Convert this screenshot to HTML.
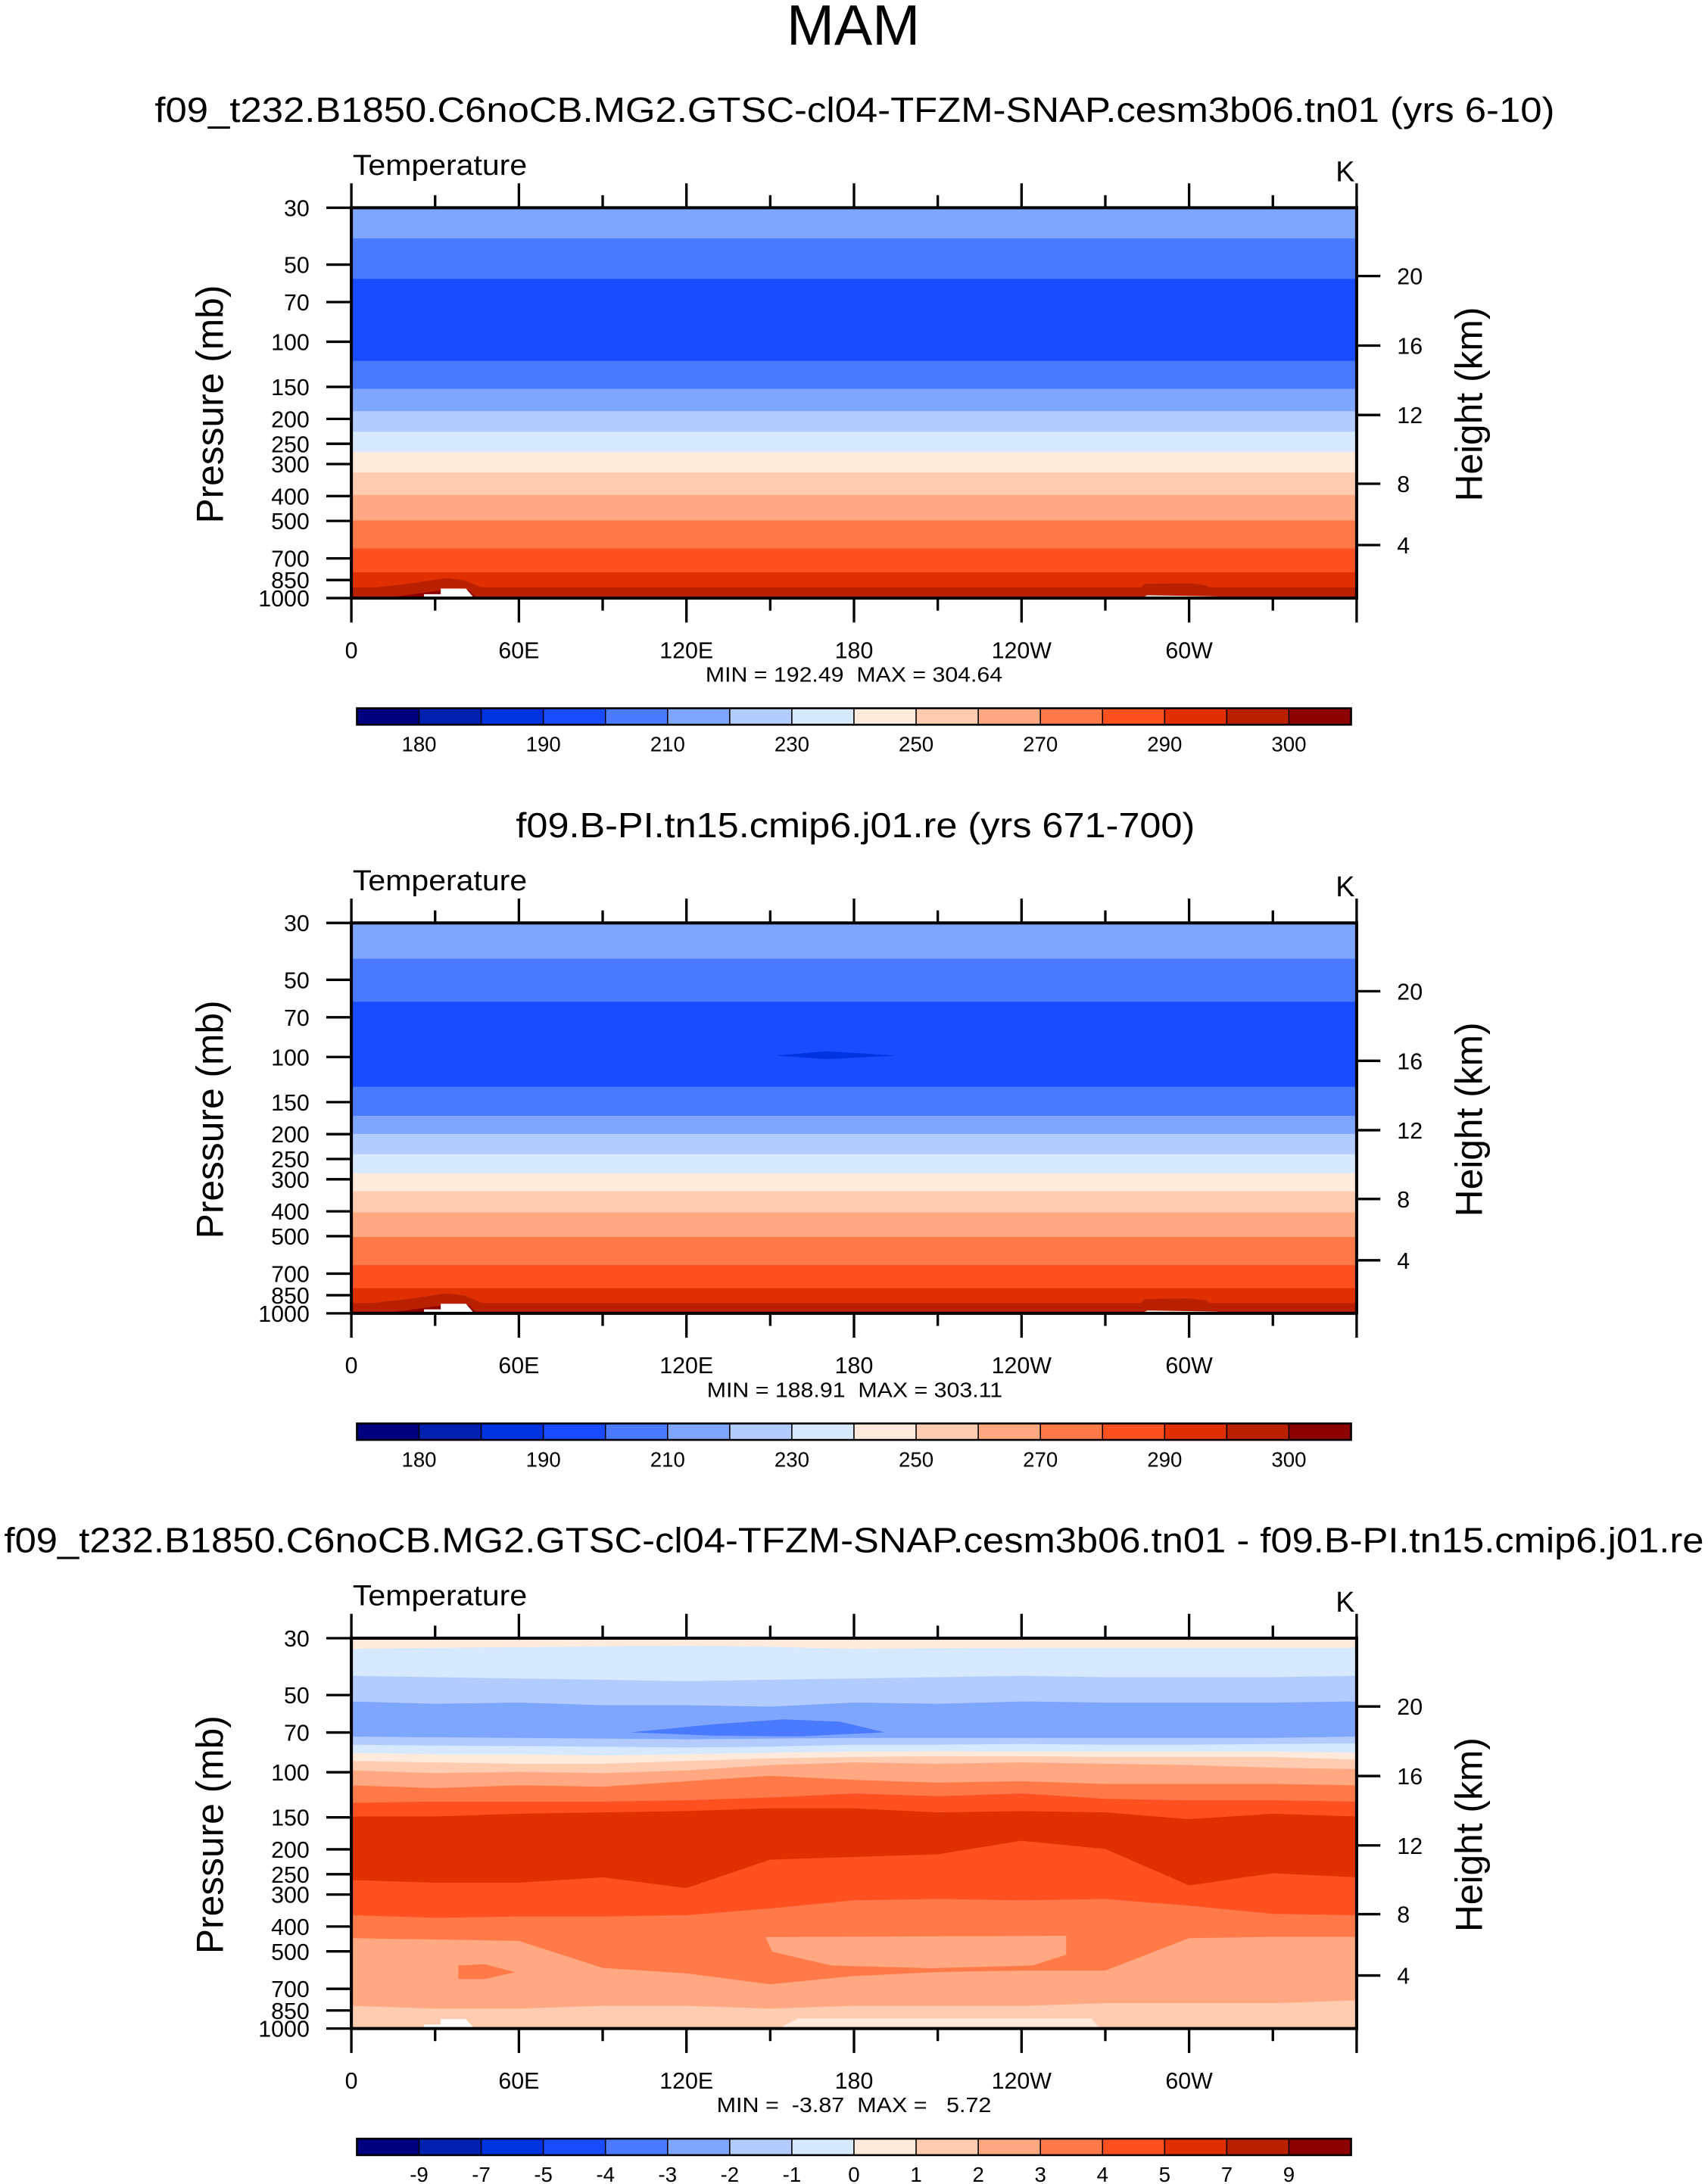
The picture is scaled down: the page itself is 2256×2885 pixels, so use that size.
<!DOCTYPE html>
<html><head><meta charset="utf-8"><style>
html,body{margin:0;padding:0;background:#fff;}
svg{display:block;font-family:"Liberation Sans",Arial,sans-serif;}
text{white-space:pre;}
</style></head><body>
<svg id="fig" width="2256" height="2885" viewBox="0 0 1225 1566.5" preserveAspectRatio="none" xmlns="http://www.w3.org/2000/svg">
<rect x="0" y="0" width="1225" height="1566.5" fill="#fff"/>
<text x="612" y="32" font-size="41" text-anchor="middle">MAM</text>
<text x="111" y="87.5" font-size="25" textLength="1004" lengthAdjust="spacingAndGlyphs">f09_t232.B1850.C6noCB.MG2.GTSC-cl04-TFZM-SNAP.cesm3b06.tn01 (yrs 6-10)</text>
<text x="370" y="600.5" font-size="25" textLength="487" lengthAdjust="spacingAndGlyphs">f09.B-PI.tn15.cmip6.j01.re (yrs 671-700)</text>
<text x="3" y="1113.5" font-size="25" textLength="1219" lengthAdjust="spacingAndGlyphs">f09_t232.B1850.C6noCB.MG2.GTSC-cl04-TFZM-SNAP.cesm3b06.tn01 - f09.B-PI.tn15.cmip6.j01.re</text>
<g id="panels"></g>
</svg>
<script>
// ---- data ----
const lonSamples = [0,30,60,90,120,150,180,210,240,270,300,330,360];
const colors = ["#00007f","#0020b0","#0033e0","#1a4cff","#4a7aff","#7fa6ff","#b3ccff","#d6e9ff","#ffeadb","#ffcbb1","#ffa882","#ff7a48","#ff5020","#e03000","#b82000","#8b0000"];
const tempLevels = [180,185,190,200,210,220,230,240,250,260,270,280,290,295,300];
const tempLabels = ["180","","190","","210","","230","","250","","270","","290","","300"];
const diffLevels = [-9,-7,-5,-4,-3,-2,-1,0,1,2,3,4,5,7,9];
const diffLabels = ["-9","-7","-5","-4","-3","-2","-1","0","1","2","3","4","5","7","9"];
const pressureTicks = [30,50,70,100,150,200,250,300,400,500,700,850,1000];
const heightTicks = ["20","16","12","8","4"];
const heightTickP = [55.4,103.5,193,358,621];
const lonTicks = [0,60,120,180,240,300];
const lonTickLabels = ["0","60E","120E","180","120W","60W"];

// panel 1: layer values (K) and bottom pressures (mb)
const p1Values = [215,205,195,205,215,225,235,245,255,265,275,285,292,297];
const p1Bottoms = [39.6,57,119,153,187,225,270,325,397,499,642,795,910,1000];
// panel 2
const p2Values = [215,205,195,205,215,225,235,245,255,265,275,285,292,297];
const p2Bottoms = [41.5,61,131,170,200,240,285,335,405,505,650,800,915,1000];
const p2BlobValue = 187;
const p2BlobLon = [152,170,195,170];
const p2BlobP = [98.7,95,98.7,102];
// surface features (shared by panels 1,2)
const bumpAValue = 297, bumpALon = [0,20,34,40,50,60,0], bumpAP = [930,880,836,850,940,1000,1000];
const bumpBValue = 302, bumpBLon = [12,30,36,42,45,12], bumpBP = [1000,940,918,930,1000,1000];
const bumpCValue = 297, bumpCLon = [280,284,300,306,312,280], bumpCP = [1000,880,875,890,1000,1000];
const terrainALon = [12,26,26,32,32,41,44], terrainAP = [1000,1000,965,965,918,918,1000];
const terrainBLon = [283,285,310,310], terrainBP = [1000,975,985,1000];

// panel 3 (difference, K): layers with bottom pressures at lonSamples
const p3Values = [0.5,-0.5,-1.5,-2.5,-1.5,-0.5,0.5,1.5,2.5,3.5,4.5,6,4.5,3.5,2.5,1.5];
const p3B1 = [33.1,32.8,32.6,32.4,32.2,32.5,33.1,32.9,32.8,32.8,32.8,32.8,32.8];
const p3B2 = [42.2,42.7,43.2,43.7,44.3,43.7,43.2,42.7,42.2,42.7,42.7,42.7,42.2];
const p3B3 = [53.1,54.2,53.6,54.9,54.9,55.6,53.6,54.2,53.1,53.6,53.6,53.6,53.1];
const p3B4 = [72.8,73.3,73.7,74.1,74.6,74.1,73.7,73.7,73.7,73.7,73.7,73.7,72.8];
const p3B5 = [78.3,78.9,79.3,79.7,80.3,79.7,78.3,78.3,77.8,78.3,78.3,77.8,77.4];
const p3B6 = [84.3,85.3,85.3,86.3,85.3,84.3,83.3,82.9,83.3,83.3,83.3,83.3,84.3];
const p3B7 = [90.7,91.8,92.9,92.9,90.7,88.5,87.4,86.9,86.9,87.4,87.4,87.4,89.6];
const p3B8 = [98.7,101.1,99.9,101.1,98.7,94.0,91.8,92.9,91.8,92.9,94.0,96.3,97.5];
const p3B9 = [112.8,115.6,112.8,114.2,108.7,103.6,107.4,110.1,108.7,111.4,111.4,111.4,112.8];
const p3B10 = [132.1,130.5,130.5,130.5,129,125.9,121.3,124.4,121.3,127.4,129,129,130.5];
const p3B11 = [149.2,149.2,145.6,143.8,142.1,138.7,138.7,143.8,142.1,143.8,152.8,145.6,149.2];
const p3B12 = [264,270.5,270.5,257.7,283.9,219.8,214.7,209.6,185.6,199.8,277.2,248.5,257.7];
const p3B13 = [362.1,370.9,366.5,366.5,362.1,340.8,316.8,313,316.8,313,332.6,357.8,362.1];
const p3B14 = [445.1,450.6,456.1,581.6,610.5,673.3,625.6,603.2,595.9,595.9,445.1,439.8,439.8];
const p3B15 = [817.5,837.6,837.6,817.5,817.5,837.6,817.5,817.5,817.5,797.9,797.9,797.9,778.6];
const p3B16 = [1000,1000,1000,1000,1000,1000,1000,1000,1000,1000,1000,1000,1000];
const p3BlobColdValue = -3.5, p3BlobColdLon = [100,130,155,175,191,160,130], p3BlobColdP = [69.9,65,62.2,63.5,69.9,72.5,72];
const p3IslandValue = 2.5, p3IslandLon = [148.3,256,256,244,208,172,150.7], p3IslandP = [439.8,434.5,515,567.7,581.6,567.7,502];
const p3SmallValue = 3.5, p3SmallLon = [38.3,47.8,58.6,47.8,38.3], p3SmallP = [567.7,561,603,641,641];
const p3LowValue = 0.5, p3LowLon = [153,160,265,268], p3LowP = [1000,912,912,1000];

// ---- drawing ----
const NS = "http://www.w3.org/2000/svg";
const root = document.getElementById("panels");
const X0 = 252, X1 = 973, PH = 280;
function xLon(l){ return X0 + l/360*(X1-X0); }
function yP(top,p){ return top + Math.log(p/30)/Math.log(1000/30)*PH; }
function colorFor(v, levels){ let i=0; while(i<levels.length && v>=levels[i]) i++; return colors[i]; }
function mk(tag, attrs, parent){ const e=document.createElementNS(NS,tag); for(const k in attrs) e.setAttribute(k,attrs[k]); (parent||root).appendChild(e); return e; }
function arr(b){ return Array.isArray(b) ? b : lonSamples.map(()=>b); }

function drawPanel(idx, top, values, bottoms, levels, overlays, cbLabels, minmax, mmX, mmW){
  const g = mk("g",{});
  
  
  const clip = mk("clipPath",{id:"clip"+idx}, g);
  mk("rect",{x:X0,y:top,width:X1-X0,height:PH}, clip);
  const field = mk("g",{"clip-path":"url(#clip"+idx+")"}, g);
  
  
  let prev = arr(30);
  values.forEach((v,i)=>{
    const b = arr(bottoms[i]);
    let pts = [];
    lonSamples.forEach((l,k)=>pts.push(xLon(l)+","+yP(top,prev[k])));
    for(let k=lonSamples.length-1;k>=0;k--) pts.push(xLon(lonSamples[k])+","+(yP(top,b[k])+0.6));
    const c = colorFor(v,levels);
    const poly = mk("polygon",{points:pts.join(" "),fill:c,stroke:c,"stroke-width":0.4}, field);
    
    
    prev = b;
  });
  overlays.forEach((o,j)=>{
    const pts = o.lon.map((l,k)=>xLon(l)+","+yP(top,o.p[k])).join(" ");
    const c = o.v===null ? "#ffffff" : colorFor(o.v,levels);
    const poly = mk("polygon",{points:pts,fill:c}, field);
    
    
  });
  const fr = mk("rect",{x:X0,y:top,width:X1-X0,height:PH,fill:"none",stroke:"#000","stroke-width":2.2}, g);
  
  
  for(let l=0;l<=360;l+=30){
    const major = l%60===0, len = major?17.5:9;
    mk("line",{x1:xLon(l),x2:xLon(l),y1:top,y2:top-len,stroke:"#000","stroke-width":1.8}, g);
    mk("line",{x1:xLon(l),x2:xLon(l),y1:top+PH,y2:top+PH+len,stroke:"#000","stroke-width":1.8}, g);
  }
  lonTicks.forEach((l,k)=>{
    const t = mk("text",{x:xLon(l),y:top+PH+43,"font-size":16.5,"text-anchor":"middle"}, g);
    t.textContent = lonTickLabels[k];
    
    
  });
  pressureTicks.forEach(p=>{
    const y = yP(top,p);
    mk("line",{x1:X0-18,x2:X0,y1:y,y2:y,stroke:"#000","stroke-width":1.8}, g);
    const t = mk("text",{x:222,y:y+6,"font-size":16.5,"text-anchor":"end"}, g);
    t.textContent = String(p);
    
    
  });
  heightTickP.forEach((p,k)=>{
    const y = yP(top,p);
    mk("line",{x1:X1,x2:X1+17,y1:y,y2:y,stroke:"#000","stroke-width":1.8}, g);
    const t = mk("text",{x:1002,y:y+6,"font-size":16.5}, g);
    t.textContent = heightTicks[k];
    
    
  });
  let t = mk("text",{x:253,y:top-23.5,"font-size":20.5,textLength:125,lengthAdjust:"spacingAndGlyphs"}, g); t.textContent="Temperature";
   
  t = mk("text",{x:958,y:top-19,"font-size":20.5}, g); t.textContent="K";
   
  t = mk("text",{x:0,y:0,"font-size":27,"text-anchor":"middle",transform:"translate(160,"+(top+141)+") rotate(-90)"}, g); t.textContent="Pressure (mb)";
   
  t = mk("text",{x:0,y:0,"font-size":27,"text-anchor":"middle",transform:"translate(1063,"+(top+141)+") rotate(-90)"}, g); t.textContent="Height (km)";
   
  t = mk("text",{x:mmX,y:top+340,"font-size":15,textLength:mmW,lengthAdjust:"spacingAndGlyphs"}, g); t.textContent=minmax;
   
  const cb = mk("g",{}, g);
  
  
  const cx0=256, cx1=969, cy=top+359, ch=11.8, w=(cx1-cx0)/16;
  colors.forEach((c,i)=>{
    const r = mk("rect",{x:cx0+i*w,y:cy,width:w,height:ch,fill:c,stroke:"#000","stroke-width":0.8}, cb);
    
    
  });
  mk("rect",{x:cx0,y:cy,width:cx1-cx0,height:ch,fill:"none",stroke:"#000","stroke-width":1.4}, cb);
  cbLabels.forEach((s,i)=>{
    if(!s) return;
    const tt = mk("text",{x:cx0+(i+1)*w,y:cy+31,"font-size":15,"text-anchor":"middle"}, cb);
    tt.textContent = s;
    
    
  });
}

const surf = [
  {v:bumpAValue,lon:bumpALon,p:bumpAP},{v:bumpBValue,lon:bumpBLon,p:bumpBP},
  {v:bumpCValue,lon:bumpCLon,p:bumpCP},
  {v:null,lon:terrainALon,p:terrainAP},{v:null,lon:terrainBLon,p:terrainBP}
];
drawPanel(1,149,p1Values,p1Bottoms,tempLevels,surf,tempLabels,"MIN = 192.49  MAX = 304.64",506,213);
drawPanel(2,662,p2Values,p2Bottoms,tempLevels,[{v:p2BlobValue,lon:p2BlobLon,p:p2BlobP}].concat(surf),tempLabels,"MIN = 188.91  MAX = 303.11",507,212);
const p3Bottoms=[p3B1,p3B2,p3B3,p3B4,p3B5,p3B6,p3B7,p3B8,p3B9,p3B10,p3B11,p3B12,p3B13,p3B14,p3B15,p3B16];
drawPanel(3,1175,p3Values,p3Bottoms,diffLevels,[
  {v:p3BlobColdValue,lon:p3BlobColdLon,p:p3BlobColdP},
  {v:p3IslandValue,lon:p3IslandLon,p:p3IslandP},
  {v:p3SmallValue,lon:p3SmallLon,p:p3SmallP},
  {v:p3LowValue,lon:p3LowLon,p:p3LowP},
  {v:null,lon:terrainALon,p:terrainAP}
],diffLabels,"MIN =  -3.87  MAX =   5.72",514,197);
</script>
</body></html>
